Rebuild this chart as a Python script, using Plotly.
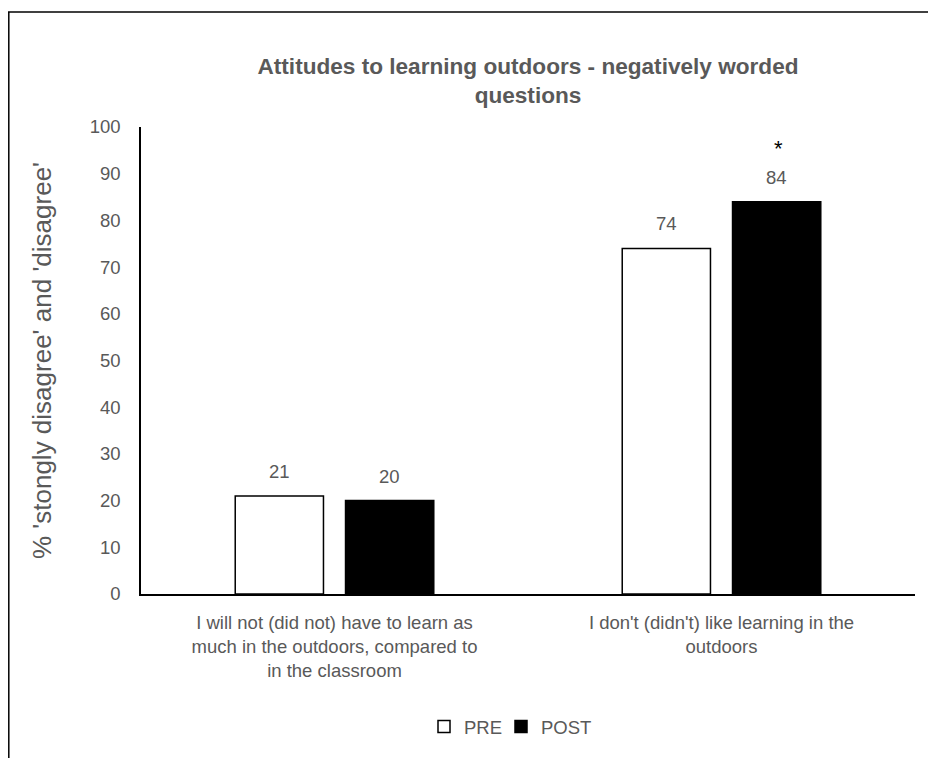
import plotly.graph_objects as go

categories = [
    "I will not (did not) have to learn as<br>much in the outdoors, compared to<br>in the classroom",
    "I don't (didn't) like learning in the<br>outdoors",
]
series_names = ["PRE", "POST"]
pre_values = [21, 74]
post_values = [20, 84]
y_ticks = list(range(0, 101, 10))
significance = [None, "*"]  # marker over POST bar

TXT = "#595959"
FONT = "Liberation Sans, Arial, sans-serif"

# page has an 8px body margin, so figure coords = screen coords - 8
W, H = 936, 758
OFF = 8
L, T = 141 - OFF, 127 - OFF
R = W - (915 - OFF)
B = H - (594 - OFF)
pw, ph = W - L - R, H - T - B

fig = go.Figure()
fig.add_trace(go.Bar(
    name=series_names[0], x=categories, y=pre_values, legend="legend",
    showlegend=True,
    marker=dict(color="white", line=dict(color="black", width=1.5)),
))
fig.add_trace(go.Bar(
    name=series_names[1], x=categories, y=post_values, legend="legend2",
    showlegend=True,
    marker=dict(color="black", line=dict(color="black", width=1.5)),
))

annotations = []
slot = pw / 2 * (1 - 0.43) / 2  # px per bar slot
for vals, shift in ((pre_values, -slot / 2), (post_values, slot / 2)):
    for c, v in zip(categories, vals):
        annotations.append(dict(
            x=c, y=v, xref="x", yref="y", text=str(v), showarrow=False,
            xshift=shift, yshift=12, yanchor="bottom",
            font=dict(family=FONT, size=18.5, color=TXT),
        ))
for c, v, s in zip(categories, post_values, significance):
    if s:
        annotations.append(dict(
            x=c, y=v, xref="x", yref="y", text=s, showarrow=False,
            xshift=slot / 2 + 2, yshift=39, yanchor="bottom",
            font=dict(family=FONT, size=22, color="black"),
        ))


def px_x(p):
    return (p - OFF - L) / pw


def px_y(p):
    return (H - B - (p - OFF)) / ph


shapes = [
    dict(type="line", xref="paper", yref="paper",
         x0=px_x(OFF), x1=px_x(W + OFF), y0=px_y(12), y1=px_y(12),
         line=dict(color="black", width=1.5)),
    dict(type="line", xref="paper", yref="paper",
         x0=px_x(OFF + 0.8), x1=px_x(OFF + 0.8), y0=px_y(12), y1=px_y(H + OFF),
         line=dict(color="black", width=1.5)),
]

legend_common = dict(
    orientation="h", xanchor="left", y=px_y(708), yanchor="top",
    font=dict(size=18.5, color=TXT), itemwidth=30, visible=True,
    bgcolor="rgba(0,0,0,0)",
)

fig.update_layout(
    width=W, height=H,
    margin=dict(l=L, r=R, t=T, b=B),
    paper_bgcolor="white", plot_bgcolor="white",
    showlegend=True,
    barmode="group", bargap=0.43, bargroupgap=0.2,
    font=dict(family=FONT, size=18.5, color=TXT),
    title=dict(
        text="<b>Attitudes to learning outdoors - negatively worded<br>questions</b>",
        x=0.5, xref="paper", xanchor="center",
        y=1 - 66 / H, yref="container", yanchor="top",
        font=dict(family=FONT, size=22.6, color=TXT),
    ),
    xaxis=dict(
        showline=True, linecolor="black", linewidth=1.5,
        ticks="", showgrid=False, tickfont=dict(size=18.5, color=TXT),
        ticklabelstandoff=11, fixedrange=True,
    ),
    yaxis=dict(
        range=[0, 100], tickvals=y_ticks, showgrid=False, zeroline=False,
        showline=True, linecolor="black", linewidth=1.5, ticks="",
        tickfont=dict(size=18.5, color=TXT), ticklabelstandoff=15,
        title=dict(text="% 'stongly disagree' and 'disagree'",
                   font=dict(size=26, color=TXT), standoff=31),
    ),
    legend=dict(x=px_x(424), **legend_common),
    legend2=dict(x=px_x(501), **legend_common),
    annotations=annotations,
    shapes=shapes,
)

fig.write_html("out.html")
